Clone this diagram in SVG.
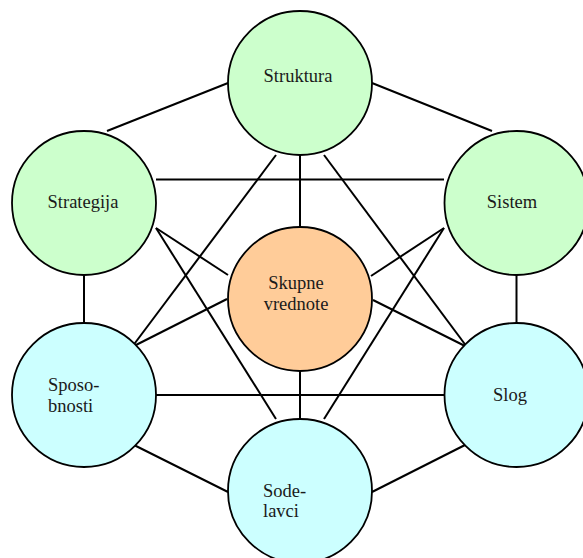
<svg xmlns="http://www.w3.org/2000/svg" width="583" height="558" viewBox="0 0 583 558">
<style>
.c{stroke:#000;stroke-width:1.8}
.g{fill:#CCFFCC}
.o{fill:#FFCC99}
.b{fill:#CCFFFF}
.e line{stroke:#000;stroke-width:2;stroke-linecap:butt}
.t text{font-size:18.5px;fill:#1a1a1a}
.m{text-anchor:middle}
</style>
<rect width="583" height="558" fill="#fff"/>
<g id="connectors" class="e">
<line x1="107" y1="131" x2="228" y2="83"/>
<line x1="372" y1="83" x2="492" y2="131"/>
<line x1="156" y1="179.5" x2="444" y2="179.5"/>
<line x1="84" y1="275" x2="84" y2="323"/>
<line x1="516.5" y1="275" x2="516.5" y2="323"/>
<line x1="156" y1="395" x2="444" y2="395"/>
<line x1="132" y1="444" x2="228" y2="492"/>
<line x1="467" y1="444" x2="372" y2="492"/>
<line x1="300" y1="155" x2="300" y2="227"/>
<line x1="300" y1="371" x2="300" y2="419"/>
<line x1="276" y1="155" x2="132" y2="347"/>
<line x1="324" y1="155" x2="467" y2="347"/>
<line x1="156" y1="228" x2="228" y2="275"/>
<line x1="156" y1="228" x2="276" y2="419"/>
<line x1="444" y1="228" x2="371" y2="276"/>
<line x1="444" y1="228" x2="324" y2="419"/>
<line x1="227" y1="299" x2="132" y2="347"/>
<line x1="373" y1="300" x2="467" y2="347"/>
</g>
<g class="t" font-family="'Liberation Serif', 'DejaVu Serif', serif">
<g id="struktura"><circle class="c g" cx="300" cy="83" r="72"/><text class="m" x="298" y="82">Struktura</text></g>
<g id="strategija"><circle class="c g" cx="84" cy="203" r="72"/><text class="m" x="83" y="208">Strategija</text></g>
<g id="sistem"><circle class="c g" cx="516.5" cy="203" r="72"/><text class="m" x="512" y="208">Sistem</text></g>
<g id="skupne"><circle class="c o" cx="300" cy="299" r="72"/><text class="m" x="296" y="289">Skupne</text><text class="m" x="296" y="310">vrednote</text></g>
<g id="sposobnosti"><circle class="c b" cx="84" cy="395" r="72"/><text x="48" y="391">Sposo-</text><text x="48" y="412">bnosti</text></g>
<g id="slog"><circle class="c b" cx="516.5" cy="395" r="72"/><text class="m" x="510" y="401">Slog</text></g>
<g id="sodelavci"><circle class="c b" cx="300" cy="491" r="72"/><text x="263" y="497">Sode-</text><text x="263" y="517">lavci</text></g>
</g>
</svg>
